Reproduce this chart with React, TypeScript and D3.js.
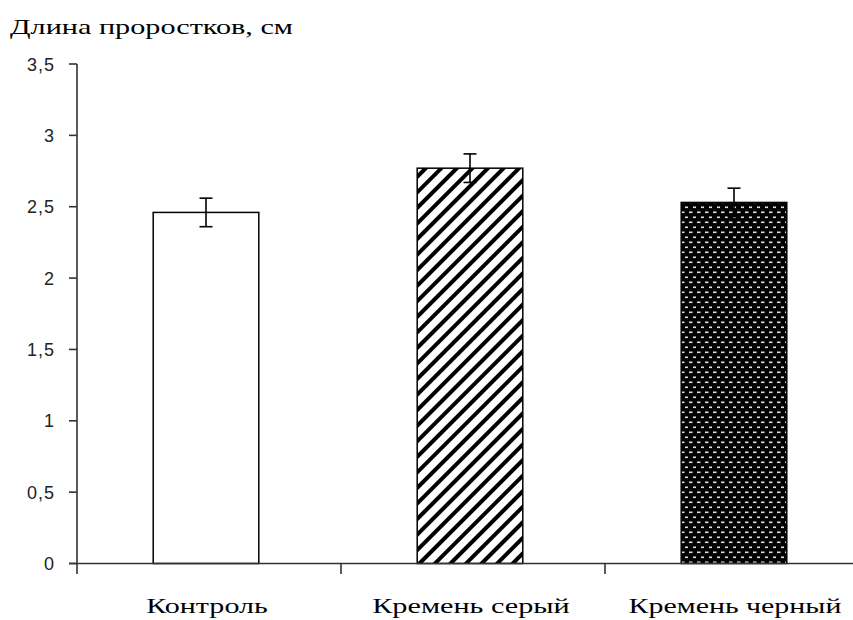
import React from "react";
import * as d3 from "d3";

const categories = ["Контроль", "Кремень серый", "Кремень черный"];
const values = [2.46, 2.77, 2.53];
const errors = [0.1, 0.1, 0.1];
const yTicks = [0, 0.5, 1, 1.5, 2, 2.5, 3, 3.5];
const yTitle = "Длина проростков, см";
const fills = ["#ffffff", "url(#hatch)", "url(#dots)"];

const W = 853;
const H = 620;
const axisX = 77;
const step = 264;

export default function App() {
  const y = d3.scaleLinear().domain([0, 3.5]).range([563.5, 64]);
  const x = d3
    .scaleBand<string>()
    .domain(categories)
    .range([axisX, axisX + step * categories.length])
    .padding(0);
  const barW = x.bandwidth() * 0.4;
  const fmt = (v: number) => String(v).replace(".", ",");
  const y0 = y(0);

  return (
    <svg
      width={W}
      height={H}
      style={{ position: "absolute", left: 0, top: 0, background: "#fff" }}
    >
      <defs>
        <pattern
          id="hatch"
          patternUnits="userSpaceOnUse"
          width={11}
          height={11}
          patternTransform="rotate(45)"
        >
          <rect width={11} height={11} fill="#fff" />
          <rect x={0} y={0} width={4} height={11} fill="#000" />
        </pattern>
        <pattern id="dots" patternUnits="userSpaceOnUse" width={8} height={10}>
          <rect width={8} height={10} fill="#000" />
          <rect x={1} y={1.5} width={3.5} height={1.6} fill="#e0e0e0" />
          <rect x={5} y={6.5} width={3.5} height={1.6} fill="#e0e0e0" />
        </pattern>
      </defs>

      <text
        x={10}
        y={34}
        fontFamily="Liberation Serif"
        fontSize={22}
        textLength={283}
        lengthAdjust="spacingAndGlyphs"
        fill="#000"
      >
        {yTitle}
      </text>

      {categories.map((c, i) => {
        const cx = (x(c) as number) + x.bandwidth() / 2 - 3;
        const top = y(values[i]);
        return (
          <g key={c}>
            <rect
              x={cx - barW / 2}
              y={top}
              width={barW}
              height={y0 - top}
              fill={fills[i]}
              stroke="#000"
              strokeWidth={1.5}
            />
            <line
              x1={cx}
              x2={cx}
              y1={y(values[i] + errors[i])}
              y2={y(values[i] - errors[i])}
              stroke="#000"
              strokeWidth={1.6}
            />
            <line
              x1={cx - 6.5}
              x2={cx + 6.5}
              y1={y(values[i] + errors[i])}
              y2={y(values[i] + errors[i])}
              stroke="#000"
              strokeWidth={1.6}
            />
            <line
              x1={cx - 6.5}
              x2={cx + 6.5}
              y1={y(values[i] - errors[i])}
              y2={y(values[i] - errors[i])}
              stroke="#000"
              strokeWidth={1.6}
            />
          </g>
        );
      })}

      <line x1={axisX} x2={axisX} y1={y(3.5)} y2={574} stroke="#333" strokeWidth={1.6} />
      {yTicks.map((t) => (
        <g key={t}>
          <line x1={69} x2={axisX} y1={y(t)} y2={y(t)} stroke="#333" strokeWidth={1.6} />
          <text
            x={55}
            y={y(t) + 6.5}
            textAnchor="end"
            fontFamily="Liberation Sans"
            fontSize={18}
            letterSpacing={1}
            fill="#222"
          >
            {fmt(t)}
          </text>
        </g>
      ))}

      <line x1={69} x2={W} y1={y0} y2={y0} stroke="#333" strokeWidth={1.6} />
      {categories.map((c) => (
        <line
          key={"t" + c}
          x1={(x(c) as number) + x.bandwidth()}
          x2={(x(c) as number) + x.bandwidth()}
          y1={y0}
          y2={574}
          stroke="#333"
          strokeWidth={1.6}
        />
      ))}
      {categories.map((c) => (
        <text
          key={"l" + c}
          x={(x(c) as number) + x.bandwidth() / 2 - 2}
          y={613}
          textAnchor="middle"
          fontFamily="Liberation Serif"
          fontSize={22}
          textLength={c.length * 15.2}
          lengthAdjust="spacingAndGlyphs"
          fill="#000"
        >
          {c}
        </text>
      ))}
    </svg>
  );
}
